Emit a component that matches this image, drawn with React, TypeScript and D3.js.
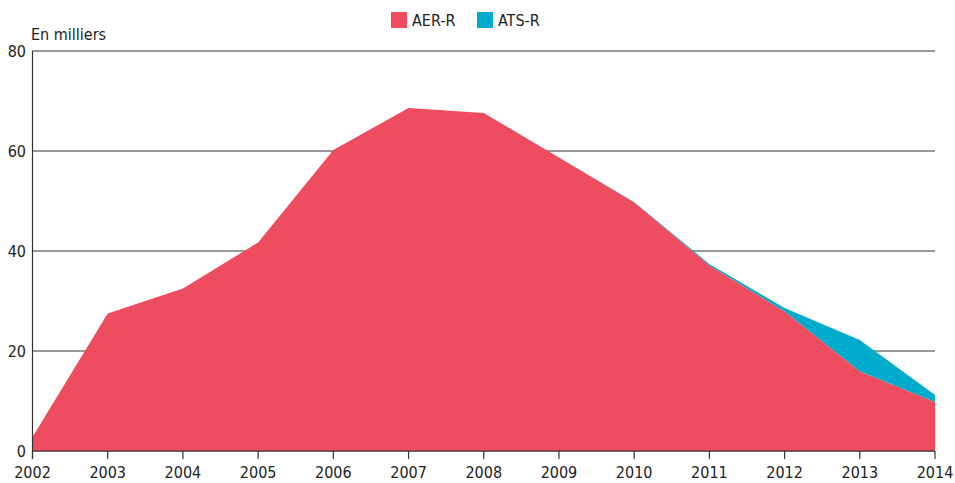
import React from "react";
import * as d3 from "d3";

const years = [2002, 2003, 2004, 2005, 2006, 2007, 2008, 2009, 2010, 2011, 2012, 2013, 2014];
const aerR = [2.8, 27.5, 32.5, 41.7, 60.2, 68.6, 67.6, 58.7, 49.7, 37.1, 27.9, 15.9, 9.8];
const atsR = [0, 0, 0, 0, 0, 0, 0, 0, 0.1, 0.3, 0.7, 6.3, 1.4];
const yTicks = [0, 20, 40, 60, 80];
const seriesNames = ["AER-R", "ATS-R"];
const seriesColors = ["#ee4c5f", "#00abcb"];

const W = 955;
const H = 483;
const FONT = "'Liberation Sans Narrow', 'DejaVu Sans Condensed', 'Roboto', sans-serif";

const App = () => {
  const margin = { left: 32.5, right: 20, top: 51, bottom: 32 };

  const x = d3.scaleLinear().domain([2002, 2014]).range([margin.left, 935]);
  const y = d3.scaleLinear().domain([0, 80]).range([451, 51]);

  // stacked data
  const rows = years.map((yr, i) => ({ year: yr, "AER-R": aerR[i], "ATS-R": atsR[i] }));
  const stack = d3.stack<any>().keys(seriesNames);
  const layers = stack(rows);

  const area = d3
    .area<any>()
    .x((d) => x(d.data.year))
    .y0((d) => y(d[0]))
    .y1((d) => y(d[1]));

  return (
    <svg width={W} height={H} style={{ display: "block", position: "absolute", left: 0, top: 0 }}>
      <rect width={W} height={H} fill="#fff" />

      {/* gridlines */}
      {yTicks.map((t) => (
        <line key={t} x1={x(2002)} x2={x(2014)} y1={y(t)} y2={y(t)} stroke="#333" strokeWidth={1} />
      ))}

      {/* stacked areas, drawn top layer first */}
      {layers
        .slice()
        .reverse()
        .map((layer, i) => (
          <path key={layer.key} d={area(layer) || ""} fill={seriesColors[seriesNames.indexOf(layer.key)]} />
        ))}

      {/* axes */}
      <line x1={x(2002)} x2={x(2002)} y1={y(80)} y2={y(0) + 8} stroke="#333" strokeWidth={1.2} />
      <line x1={x(2002)} x2={x(2014)} y1={y(0)} y2={y(0)} stroke="#333" strokeWidth={1.2} />
      {years.map((yr) => (
        <g key={yr}>
          <line x1={x(yr)} x2={x(yr)} y1={y(0)} y2={y(0) + 8} stroke="#333" strokeWidth={1.2} />
          <text
            x={x(yr)}
            y={478}
            textAnchor="middle"
            fontFamily={FONT}
            fontSize={16}
            fill="#222"
          >
            {yr}
          </text>
        </g>
      ))}
      {yTicks.map((t) => (
        <text
          key={t}
          x={26}
          y={y(t) + 6}
          textAnchor="end"
          fontFamily={FONT}
          fontSize={16}
          fill="#222"
        >
          {t}
        </text>
      ))}

      <text x={31} y={40} fontFamily={FONT} fontSize={16} fill="#222">
        En milliers
      </text>

      {/* legend */}
      {seriesNames.map((name, i) => (
        <g key={name} transform={`translate(${391 + i * 86},12)`}>
          <rect width={16} height={16} fill={seriesColors[i]} />
          <text x={21} y={14} fontFamily={FONT} fontSize={16} fill="#222">
            {name}
          </text>
        </g>
      ))}
    </svg>
  );
};

export default App;
